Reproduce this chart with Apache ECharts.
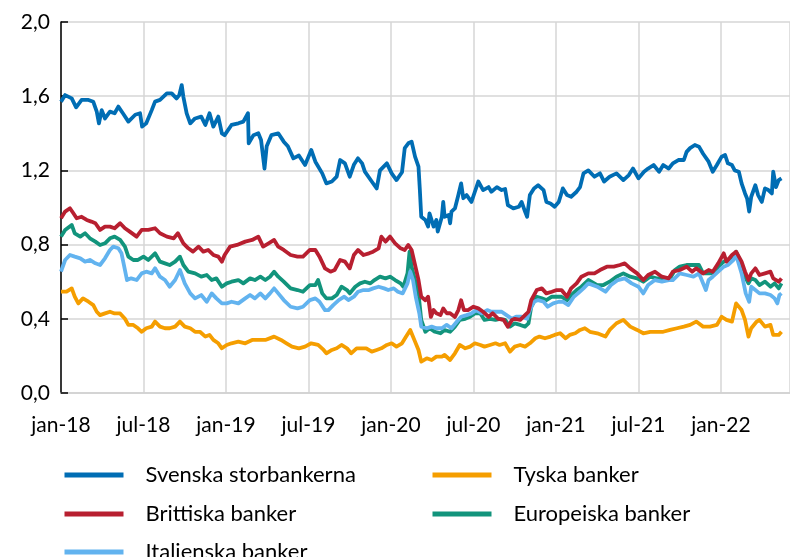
<!DOCTYPE html>
<html>
<head>
<meta charset="utf-8">
<script src="https://cdn.jsdelivr.net/npm/echarts@6/dist/echarts.min.js"></script>
<style>
html,body{margin:0;padding:0;background:#fff;}
#chart{width:790px;height:557px;}
</style>
</head>
<body>
<div id="chart"></div>
<script>
// x positions are months since jan-18
const xTickLabels = ['jan-18','jul-18','jan-19','jul-19','jan-20','jul-20','jan-21','jul-21','jan-22'];
const seriesNames = ['Svenska storbankerna','Tyska banker','Brittiska banker','Europeiska banker','Italienska banker'];

const svMonths = [0,0.3,0.78,1.1,1.5,2.0,2.35,2.6,2.76,2.96,3.2,3.56,3.9,4.17,4.5,4.9,5.4,5.75,5.9,6.2,6.6,6.84,7.2,7.7,8.05,8.4,8.6,8.78,8.9,9.14,9.4,9.75,10.2,10.5,10.8,11.08,11.44,11.7,11.9,12.4,12.9,13.26,13.6,13.65,14.0,14.35,14.55,14.8,14.96,15.3,15.8,16.2,16.5,16.9,17.3,17.75,18.2,18.5,19.0,19.3,19.7,20.05,20.3,20.65,21.0,21.3,21.6,21.9,22.1,22.6,22.96,23.2,23.7,24.05,24.4,24.8,25.0,25.26,25.5,25.75,26.0,26.1,26.2,26.5,26.7,26.8,27.1,27.3,27.4,27.7,27.8,27.9,28.2,28.3,28.4,28.65,28.9,29.1,29.26,29.5,29.85,30.1,30.35,30.7,31.1,31.3,31.7,32.05,32.3,32.5,32.9,33.3,33.5,33.75,33.9,34.1,34.4,34.7,35.1,35.3,35.6,35.9,36.2,36.5,36.8,37.1,37.5,37.75,38.0,38.35,38.8,39.2,39.5,39.9,40.4,40.9,41.3,41.6,42.0,42.4,42.7,43.1,43.5,43.8,44.2,44.5,44.9,45.3,45.5,45.75,46.1,46.4,46.7,47.1,47.4,47.7,48.05,48.3,48.5,48.8,49.0,49.3,49.5,49.75,49.9,50.05,50.2,50.5,50.7,50.97,51.2,51.45,51.7,51.8,52.0,52.2,52.4];
const svValues = [1.57,1.606,1.588,1.54,1.58,1.58,1.57,1.517,1.454,1.525,1.48,1.517,1.508,1.544,1.508,1.463,1.50,1.508,1.436,1.454,1.525,1.571,1.58,1.615,1.615,1.588,1.606,1.66,1.597,1.508,1.454,1.48,1.49,1.445,1.508,1.436,1.49,1.40,1.39,1.445,1.454,1.463,1.508,1.346,1.39,1.40,1.364,1.21,1.33,1.39,1.40,1.355,1.33,1.265,1.28,1.229,1.31,1.247,1.184,1.13,1.14,1.166,1.256,1.238,1.166,1.23,1.265,1.238,1.193,1.14,1.103,1.20,1.238,1.184,1.148,1.19,1.32,1.346,1.355,1.274,1.22,1.094,0.95,0.933,0.897,0.968,0.897,0.933,0.87,0.95,1.03,0.95,0.96,0.915,0.978,0.995,1.067,1.13,1.05,1.067,1.03,1.085,1.14,1.094,1.11,1.085,1.11,1.094,1.10,1.013,0.995,1.004,1.03,0.978,0.95,1.067,1.103,1.12,1.094,1.03,1.022,1.004,1.03,1.103,1.067,1.058,1.085,1.11,1.184,1.20,1.166,1.184,1.14,1.166,1.184,1.148,1.175,1.21,1.157,1.193,1.21,1.229,1.193,1.229,1.21,1.238,1.256,1.256,1.30,1.32,1.337,1.328,1.29,1.247,1.193,1.229,1.274,1.283,1.238,1.229,1.20,1.193,1.13,1.076,1.049,0.978,1.058,1.12,1.067,1.03,1.103,1.094,1.076,1.193,1.11,1.148,1.157];

const brMonths = [0,0.3,0.65,0.9,1.14,1.5,1.87,2.2,2.5,2.84,3.2,3.56,3.9,4.3,4.65,5.0,5.5,5.87,6.35,6.84,7.2,7.7,8.2,8.5,8.9,9.26,9.6,10.0,10.35,10.7,11.08,11.44,11.7,11.9,12.3,12.8,13.4,13.9,14.35,14.7,15.1,15.5,15.8,16.2,16.7,17.2,17.6,18.1,18.5,18.8,19.2,19.6,19.9,20.3,20.65,21.0,21.3,21.6,22.0,22.4,22.7,23.1,23.3,23.6,23.93,24.3,24.7,25.0,25.26,25.5,25.75,26.0,26.2,26.5,26.7,26.9,27.1,27.3,27.6,27.8,28.05,28.3,28.65,28.9,29.1,29.3,29.6,30.0,30.35,30.7,31.1,31.4,31.8,32.2,32.5,32.8,33.0,33.4,33.75,34.0,34.2,34.6,34.97,35.3,35.7,36.05,36.4,36.8,37.1,37.5,37.85,38.35,38.8,39.2,39.7,40.2,40.65,41.0,41.4,41.9,42.35,42.7,43.2,43.7,44.2,44.5,45.0,45.5,45.9,46.2,46.7,47.1,47.4,47.8,48.2,48.4,48.8,49.1,49.5,49.75,50.0,50.2,50.5,50.8,51.2,51.6,51.8,52.2,52.4];
const brValues = [0.942,0.978,0.996,0.969,0.942,0.95,0.933,0.924,0.915,0.879,0.897,0.897,0.888,0.915,0.888,0.87,0.843,0.879,0.879,0.888,0.861,0.843,0.834,0.861,0.807,0.78,0.762,0.789,0.762,0.771,0.744,0.735,0.708,0.744,0.789,0.798,0.816,0.825,0.843,0.789,0.807,0.825,0.789,0.771,0.744,0.735,0.735,0.771,0.771,0.735,0.672,0.654,0.663,0.717,0.708,0.672,0.744,0.771,0.744,0.753,0.762,0.78,0.843,0.816,0.843,0.807,0.78,0.771,0.798,0.771,0.69,0.609,0.519,0.50,0.519,0.41,0.447,0.43,0.42,0.456,0.43,0.43,0.41,0.447,0.50,0.447,0.447,0.465,0.456,0.438,0.41,0.43,0.40,0.394,0.357,0.394,0.40,0.394,0.42,0.438,0.50,0.555,0.564,0.537,0.546,0.555,0.555,0.519,0.564,0.591,0.627,0.645,0.645,0.663,0.681,0.681,0.69,0.699,0.672,0.645,0.609,0.636,0.654,0.627,0.618,0.654,0.663,0.681,0.654,0.672,0.645,0.663,0.654,0.699,0.753,0.708,0.744,0.762,0.708,0.654,0.609,0.645,0.672,0.636,0.645,0.654,0.618,0.60,0.618];

const euMonths = [0,0.3,0.78,1.0,1.4,1.75,2.1,2.5,2.84,3.2,3.56,3.9,4.3,4.65,4.9,5.26,5.6,6.0,6.35,6.84,7.2,7.56,7.9,8.3,8.65,8.9,9.26,9.75,10.2,10.6,10.96,11.3,11.7,12.05,12.4,12.9,13.26,13.75,14.1,14.5,14.86,15.2,15.5,15.8,16.2,16.7,17.2,17.6,18.1,18.5,18.7,19.0,19.3,19.7,20.05,20.4,20.8,21.0,21.4,21.75,22.1,22.5,22.8,23.2,23.6,23.93,24.3,24.7,24.9,25.2,25.35,25.5,25.75,26.0,26.2,26.5,26.8,27.2,27.6,27.9,28.3,28.65,29.0,29.4,29.75,30.1,30.5,30.8,31.2,31.6,31.9,32.3,32.65,33.0,33.4,33.75,34.0,34.2,34.6,34.97,35.3,35.7,36.05,36.4,36.8,37.1,37.5,37.85,38.35,39.0,39.45,39.9,40.4,40.9,41.4,41.9,42.35,42.85,43.3,43.8,44.3,44.65,45.0,45.5,46.0,46.4,46.7,47.1,47.4,47.8,48.2,48.5,48.9,49.1,49.5,49.75,50.0,50.2,50.5,50.8,51.2,51.6,51.9,52.2,52.4];
const euValues = [0.843,0.879,0.906,0.861,0.843,0.861,0.834,0.816,0.798,0.807,0.834,0.843,0.825,0.789,0.735,0.717,0.717,0.735,0.717,0.753,0.708,0.699,0.69,0.708,0.735,0.69,0.654,0.645,0.627,0.636,0.609,0.618,0.573,0.591,0.60,0.609,0.591,0.618,0.609,0.627,0.609,0.627,0.654,0.627,0.60,0.564,0.555,0.546,0.582,0.582,0.609,0.537,0.51,0.51,0.528,0.573,0.555,0.537,0.573,0.591,0.60,0.591,0.609,0.627,0.618,0.627,0.609,0.591,0.573,0.645,0.762,0.681,0.609,0.537,0.394,0.33,0.349,0.33,0.322,0.34,0.33,0.358,0.394,0.40,0.411,0.429,0.429,0.394,0.40,0.394,0.40,0.394,0.358,0.375,0.367,0.358,0.375,0.465,0.519,0.51,0.501,0.519,0.519,0.519,0.50,0.528,0.555,0.573,0.609,0.582,0.582,0.60,0.627,0.645,0.627,0.618,0.60,0.627,0.618,0.618,0.618,0.663,0.681,0.69,0.69,0.69,0.645,0.645,0.645,0.681,0.708,0.717,0.735,0.762,0.69,0.627,0.591,0.618,0.609,0.582,0.60,0.573,0.591,0.564,0.591];

const itMonths = [0,0.3,0.65,1.0,1.4,1.75,2.1,2.5,2.84,3.2,3.56,3.8,4.17,4.4,4.6,4.8,5.1,5.5,5.87,6.2,6.6,6.84,7.2,7.56,7.9,8.3,8.65,9.0,9.4,9.75,10.2,10.6,10.96,11.3,11.7,12.05,12.4,12.9,13.4,13.75,14.1,14.5,14.86,15.2,15.5,15.8,16.2,16.7,17.2,17.6,18.1,18.5,18.8,19.2,19.45,19.8,20.2,20.6,20.9,21.3,21.6,22.0,22.4,22.7,23.1,23.5,23.8,24.2,24.5,24.85,25.2,25.4,25.6,25.8,26.06,26.2,26.6,26.96,27.3,27.7,28.05,28.4,28.8,29.1,29.5,29.85,30.2,30.6,31.0,31.3,31.7,32.05,32.4,32.8,33.1,33.5,33.9,34.1,34.4,34.7,35.1,35.4,35.8,36.2,36.5,36.9,37.3,37.6,38.0,38.35,39.0,39.6,40.0,40.5,41.0,41.5,42.0,42.35,42.7,43.2,43.7,44.2,44.5,45.0,45.5,46.0,46.4,46.6,46.9,47.1,47.4,47.8,48.2,48.5,48.9,49.1,49.5,49.8,50.05,50.2,50.5,50.8,51.2,51.6,51.9,52.1,52.25,52.4];
const itValues = [0.654,0.717,0.744,0.735,0.726,0.708,0.717,0.699,0.69,0.726,0.771,0.789,0.78,0.753,0.681,0.609,0.618,0.609,0.645,0.654,0.645,0.672,0.627,0.609,0.573,0.609,0.663,0.591,0.537,0.51,0.528,0.492,0.537,0.51,0.483,0.483,0.492,0.483,0.51,0.528,0.51,0.537,0.51,0.537,0.564,0.537,0.501,0.465,0.456,0.465,0.501,0.51,0.492,0.447,0.447,0.474,0.501,0.519,0.501,0.519,0.546,0.555,0.555,0.564,0.573,0.564,0.555,0.564,0.546,0.537,0.591,0.654,0.609,0.519,0.43,0.358,0.349,0.358,0.349,0.349,0.367,0.349,0.385,0.411,0.42,0.429,0.447,0.429,0.447,0.438,0.438,0.438,0.42,0.40,0.411,0.411,0.40,0.447,0.492,0.501,0.492,0.465,0.483,0.492,0.492,0.474,0.519,0.537,0.564,0.591,0.573,0.546,0.582,0.609,0.618,0.591,0.573,0.537,0.582,0.609,0.60,0.609,0.609,0.645,0.636,0.627,0.645,0.609,0.555,0.609,0.627,0.654,0.681,0.69,0.717,0.744,0.645,0.537,0.492,0.573,0.555,0.537,0.537,0.528,0.51,0.483,0.528,0.537];

const tyMonths = [0,0.4,0.78,1.0,1.26,1.6,2.0,2.35,2.6,2.84,3.2,3.56,3.9,4.3,4.65,4.9,5.26,5.6,5.87,6.2,6.6,6.84,7.2,7.56,7.9,8.3,8.65,9.0,9.4,9.75,10.1,10.5,10.8,11.08,11.44,11.7,12.05,12.4,12.9,13.4,13.9,14.35,14.86,15.5,16.0,16.4,16.8,17.3,17.75,18.2,18.7,19.1,19.3,19.7,20.05,20.4,20.8,21.1,21.5,21.9,22.2,22.6,22.96,23.3,23.7,24.05,24.4,24.8,25.1,25.4,25.75,26.0,26.2,26.6,26.96,27.3,27.7,27.9,28.3,28.65,29.0,29.4,29.75,30.1,30.5,30.8,31.2,31.6,31.9,32.3,32.65,33.0,33.4,33.75,34.1,34.5,34.8,35.2,35.6,35.9,36.3,36.7,37.0,37.4,37.75,38.1,38.47,39.0,39.6,39.9,40.4,40.9,41.4,41.9,42.35,42.85,43.3,43.8,44.3,44.8,45.3,45.75,46.2,46.7,47.2,47.7,48.05,48.4,48.8,49.1,49.5,49.75,50.0,50.2,50.6,50.8,51.2,51.6,51.8,52.2,52.4];
const tyValues = [0.546,0.546,0.564,0.519,0.483,0.51,0.492,0.474,0.438,0.42,0.429,0.438,0.429,0.429,0.40,0.367,0.367,0.349,0.33,0.349,0.358,0.385,0.358,0.349,0.349,0.358,0.385,0.358,0.349,0.33,0.33,0.304,0.313,0.286,0.268,0.241,0.259,0.268,0.277,0.268,0.286,0.286,0.286,0.304,0.286,0.268,0.25,0.241,0.25,0.268,0.259,0.232,0.214,0.232,0.241,0.259,0.241,0.214,0.241,0.241,0.241,0.223,0.232,0.241,0.259,0.268,0.25,0.268,0.304,0.34,0.277,0.232,0.169,0.187,0.178,0.196,0.196,0.205,0.178,0.214,0.259,0.241,0.25,0.268,0.259,0.25,0.259,0.268,0.259,0.268,0.223,0.25,0.259,0.25,0.268,0.295,0.304,0.295,0.304,0.313,0.322,0.295,0.313,0.322,0.34,0.349,0.33,0.322,0.304,0.34,0.376,0.394,0.358,0.34,0.322,0.33,0.33,0.33,0.34,0.349,0.358,0.367,0.385,0.358,0.358,0.367,0.411,0.394,0.385,0.483,0.447,0.394,0.304,0.349,0.385,0.394,0.358,0.367,0.313,0.313,0.33];

const colors = {
  sv: '#006db4',
  ty: '#f59e00',
  br: '#b81f30',
  eu: '#12947c',
  it: '#62b3ef'
};

function pairs(xs, ys){ return xs.map((x,i)=>[x, ys[i]]); }

const FONT = 'Lato';
const chart = echarts.init(document.getElementById('chart'), null, {renderer:'canvas'});

function mkLine(name, xs, ys, color, z){
  return {
    name, type:'line', data: pairs(xs, ys), showSymbol:false, symbol:'none',
    lineStyle:{width:3.8, color, join:'round'}, itemStyle:{color}, z, animation:false
  };
}
function mkLegend(name, left, top){
  return {
    data:[name], left, top, padding:0, itemWidth:59, itemHeight:5,
    lineStyle:{width:5, cap:'butt'},
    textStyle:{fontFamily:FONT, fontSize:22, color:'#000', padding:[0,0,0,17]},
    selectedMode:false
  };
}

chart.setOption({
  animation:false,
  backgroundColor:'#fff',
  grid:{left:61, right:0, top:22, bottom:164, containLabel:false},
  xAxis:{
    type:'value', min:0, max:53.02, interval:6,
    axisLine:{show:true, lineStyle:{color:'#d0d0d0', width:1.5}},
    axisTick:{show:false},
    splitLine:{show:true, lineStyle:{color:'#d6d6d6', width:1.5}},
    axisLabel:{
      showMaxLabel:false, margin:22,
      fontFamily:FONT, fontSize:21, color:'#000',
      formatter:(v)=>{ const i = Math.round(v/6); return xTickLabels[i] || ''; }
    }
  },
  yAxis:{
    type:'value', min:0, max:2, interval:0.4,
    axisLine:{show:true, lineStyle:{color:'#000', width:1.5}},
    axisTick:{show:true, inside:true, length:7, lineStyle:{color:'#000', width:1.5}},
    splitLine:{show:true, lineStyle:{color:'#d6d6d6', width:1.5}},
    axisLabel:{
      margin:11, fontFamily:FONT, fontSize:21, color:'#000',
      formatter:(v)=>v.toFixed(1).replace('.', ',')
    }
  },
  legend:[
    mkLegend(seriesNames[0], 62, 464),
    mkLegend(seriesNames[1], 430, 464),
    mkLegend(seriesNames[2], 62, 503),
    mkLegend(seriesNames[3], 430, 503),
    mkLegend(seriesNames[4], 62, 541)
  ],
  series:[
    mkLine(seriesNames[0], svMonths, svValues, colors.sv, 2),
    mkLine(seriesNames[1], tyMonths, tyValues, colors.ty, 3),
    mkLine(seriesNames[3], euMonths, euValues, colors.eu, 4),
    mkLine(seriesNames[4], itMonths, itValues, colors.it, 5),
    mkLine(seriesNames[2], brMonths, brValues, colors.br, 6)
  ]
});
</script>
</body>
</html>
